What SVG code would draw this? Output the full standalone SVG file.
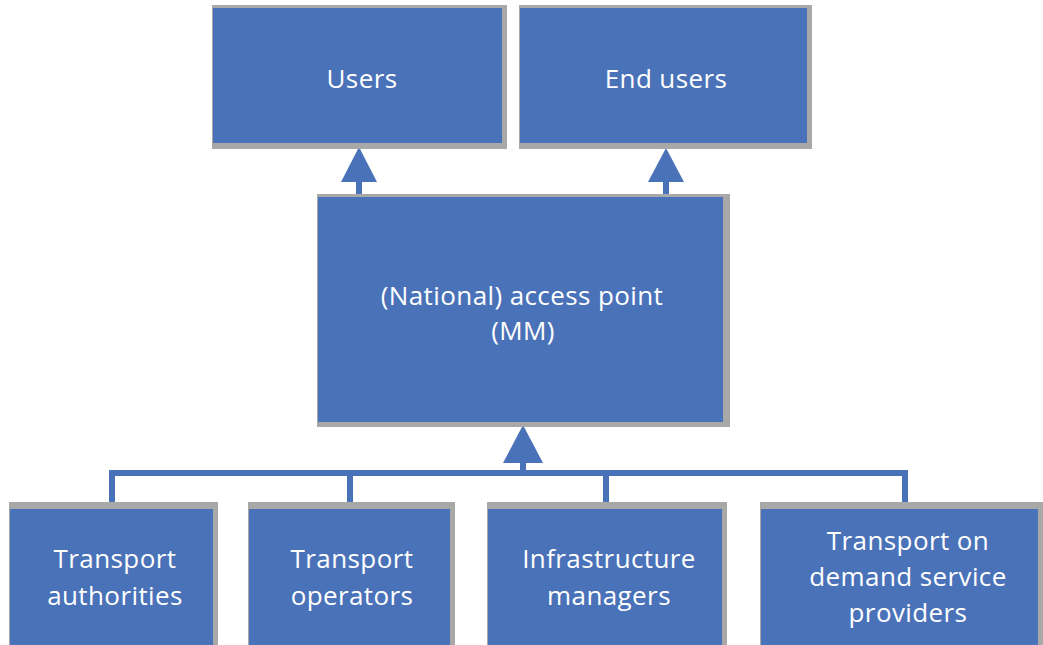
<svg xmlns="http://www.w3.org/2000/svg" width="1043" height="645" viewBox="0 0 1043 645">
<style>
.sh{fill:#a8a8a8;}
.bx{fill:#4a72b8;}
.t{fill:#ffffff;font-family:"Open Sans","Liberation Sans",sans-serif;font-size:26px;text-anchor:middle;letter-spacing:0.4px;}
.ln{stroke:#4a72b8;stroke-width:6;fill:none;}
.ah{fill:#4a72b8;}
</style>
<rect width="1043" height="645" fill="#ffffff"/>
<g id="connectors">
<path class="ln" d="M359 182V198"/>
<polygon class="ah" points="359,147 377,182 341,182"/>
<path class="ln" d="M666 182V198"/>
<polygon class="ah" points="666,148 684,182 648,182"/>
<path class="ln" d="M523 462V473"/>
<polygon class="ah" points="523,425 543,463 503,463"/>
<path class="ln" d="M112 508V473H905V508M350 473V508M606 473V508"/>
</g>
<g id="users">
<rect class="sh" x="212" y="5" width="295" height="144"/>
<rect class="bx" x="213" y="8" width="289" height="135"/>
<text class="t" x="362" y="88">Users</text>
</g>
<g id="end-users">
<rect class="sh" x="519" y="5" width="293" height="144"/>
<rect class="bx" x="520" y="8" width="287" height="135"/>
<text class="t" x="666" y="88">End users</text>
</g>
<g id="access-point">
<rect class="sh" x="317" y="194" width="413" height="233"/>
<rect class="bx" x="318" y="197" width="405" height="225"/>
<text class="t" x="522" y="305">(National) access point</text>
<text class="t" x="523" y="340">(MM)</text>
</g>
<g id="transport-authorities">
<rect class="sh" x="9" y="502" width="209" height="150"/>
<rect class="bx" x="10" y="509" width="203" height="140"/>
<text class="t" x="115" y="568">Transport</text>
<text class="t" x="115" y="605">authorities</text>
</g>
<g id="transport-operators">
<rect class="sh" x="248" y="502" width="207" height="150"/>
<rect class="bx" x="249" y="509" width="201" height="140"/>
<text class="t" x="352" y="568">Transport</text>
<text class="t" x="352" y="605">operators</text>
</g>
<g id="infrastructure-managers">
<rect class="sh" x="487" y="502" width="240" height="150"/>
<rect class="bx" x="488" y="509" width="234" height="140"/>
<text class="t" x="609" y="568">Infrastructure</text>
<text class="t" x="609" y="605">managers</text>
</g>
<g id="tod-providers">
<rect class="sh" x="760" y="502" width="288" height="150"/>
<rect class="bx" x="761" y="509" width="277" height="140"/>
<text class="t" x="908" y="550">Transport on</text>
<text class="t" x="908" y="586">demand service</text>
<text class="t" x="908" y="622">providers</text>
</g>
</svg>
